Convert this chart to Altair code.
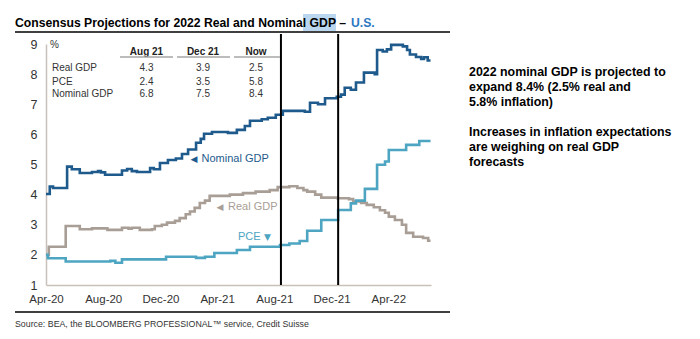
import altair as alt
import pandas as pd

FONT = "Liberation Sans"
C_NOM = "#1E5A8C"
C_REAL = "#A89E96"
C_PCE = "#4DA5C2"

nom_dates = ["2020-04-01","2020-04-09","2020-04-16","2020-05-16","2020-05-26","2020-06-12","2020-07-08","2020-07-21",
             "2020-07-27","2020-08-05","2020-09-10","2020-09-21","2020-10-01","2020-10-12","2020-11-09","2020-11-17",
             "2020-11-30","2020-12-17","2021-01-03","2021-01-16","2021-01-29","2021-02-15","2021-02-25","2021-03-04",
             "2021-03-21","2021-04-24","2021-05-13","2021-05-30","2021-06-10","2021-07-05","2021-07-18","2021-08-04",
             "2021-08-19","2021-10-05","2021-10-16","2021-11-02","2021-11-17","2021-12-12","2021-12-21","2021-12-29",
             "2022-01-11","2022-01-22","2022-02-08","2022-03-03","2022-03-08","2022-03-20","2022-03-29","2022-04-07",
             "2022-05-02","2022-05-11","2022-05-17","2022-05-30","2022-06-10","2022-06-16","2022-06-24","2022-06-30"]
nom_vals = [4.02,4.27,4.22,4.93,4.84,4.72,4.75,4.78,
            4.74,4.66,4.80,4.85,4.78,4.75,4.88,4.84,
            5.05,5.15,5.20,5.35,5.50,5.72,5.85,6.02,
            6.08,6.05,6.15,6.28,6.45,6.50,6.55,6.65,
            6.78,6.75,7.05,7.00,7.20,7.25,7.32,7.55,
            7.48,7.72,8.05,8.00,8.80,8.75,8.82,8.97,
            8.92,8.80,8.65,8.57,8.50,8.56,8.45,8.45]

real_dates = ["2020-04-01","2020-04-07","2020-05-13","2020-06-12","2020-07-08","2020-08-10","2020-09-10","2020-09-24",
              "2020-10-01","2020-10-18","2020-11-13","2020-11-19","2020-12-04","2020-12-15","2021-01-01","2021-01-11",
              "2021-01-24","2021-02-02","2021-02-12","2021-02-23","2021-03-06","2021-03-16","2021-04-28","2021-05-26",
              "2021-06-22","2021-07-22","2021-08-08","2021-09-02","2021-09-19","2021-10-02","2021-10-10","2021-10-27",
              "2021-11-09","2021-12-13","2022-01-07","2022-01-16","2022-02-02","2022-02-14","2022-03-01","2022-03-14",
              "2022-03-25","2022-04-02","2022-04-15","2022-04-30","2022-05-09","2022-05-24","2022-06-14","2022-06-25",
              "2022-06-30"]
real_vals = [2.00,2.27,2.96,2.85,2.88,2.83,2.90,2.87,
             2.90,2.83,2.85,2.96,3.00,3.07,3.13,3.22,
             3.35,3.44,3.56,3.72,3.80,3.96,4.00,4.05,
             4.10,4.15,4.25,4.28,4.22,4.15,4.10,4.00,
             3.90,3.88,3.85,3.77,3.72,3.66,3.58,3.48,
             3.40,3.27,3.16,3.00,2.73,2.60,2.56,2.47,
             2.47]

pce_dates = ["2020-04-01","2020-04-05","2020-05-13","2020-08-16","2020-08-27","2020-09-10","2020-12-13","2021-02-15",
             "2021-03-06","2021-03-26","2021-05-13","2021-06-10","2021-08-13","2021-09-02","2021-09-24","2021-10-10",
             "2021-11-09","2021-12-15","2022-01-11","2022-01-22","2022-02-10","2022-03-08","2022-03-25","2022-04-02",
             "2022-05-09","2022-06-06","2022-06-30"]
pce_vals = [2.00,1.89,1.78,1.80,1.74,1.85,1.94,1.90,
            1.94,2.06,2.16,2.27,2.33,2.38,2.46,2.80,
            3.16,3.49,3.71,3.80,4.19,4.99,5.10,5.48,
            5.65,5.78,5.78]

event_dates = ["2021-08-15", "2021-12-15"]
x_ticks = [(2020, 4), (2020, 8), (2020, 12), (2021, 4), (2021, 8), (2021, 12), (2022, 4)]
y_ticks = [1, 2, 3, 4, 5, 6, 7, 8, 9]

table_cols = ["Aug 21", "Dec 21", "Now"]
table_rows = ["Real GDP", "PCE", "Nominal GDP"]
table_vals = [["4.3", "3.9", "2.5"], ["2.4", "3.5", "5.8"], ["6.8", "7.5", "8.4"]]

right_text = ["2022 nominal GDP is projected to", "expand 8.4% (2.5% real and", "5.8% inflation)",
              "", "Increases in inflation expectations", "are weighing on real GDP", "forecasts"]

rows = []
for s, ds, vs in [("Nominal GDP", nom_dates, nom_vals), ("Real GDP", real_dates, real_vals), ("PCE", pce_dates, pce_vals)]:
    for d, v in zip(ds, vs):
        rows.append({"series": s, "date": d + "T00:00:00", "value": v})
df = pd.DataFrame(rows)

W, H = 385, 241
x_scale = alt.Scale(domain=[alt.DateTime(year=2020, month=4, date=1), alt.DateTime(year=2022, month=7, date=1)])
y_scale = alt.Scale(domain=[1, 9], nice=False, zero=False)

lines = alt.Chart(df).mark_line(interpolate="step-after", strokeWidth=2.6).encode(
    x=alt.X("date:T", scale=x_scale, title=None,
            axis=alt.Axis(values=[alt.DateTime(year=y, month=m, date=1) for y, m in x_ticks], format="%b-%y",
                          grid=False, ticks=False, labelFlush=False, labelOverlap=False, labelPadding=8,
                          labelFontSize=11.5, labelFont=FONT, labelColor="#333333",
                          domainColor="#C9C1B9", domainWidth=1.5)),
    y=alt.Y("value:Q", scale=y_scale, title=None,
            axis=alt.Axis(values=y_ticks, grid=False, ticks=False, labelPadding=9, labelFontSize=12.5,
                          labelFont=FONT, labelColor="#333333", domainColor="#C9C1B9", domainWidth=1.5)),
    color=alt.Color("series:N", legend=None,
                    scale=alt.Scale(domain=["Nominal GDP", "Real GDP", "PCE"], range=[C_NOM, C_REAL, C_PCE])),
)

ev = pd.DataFrame({"date": [d + "T00:00:00" for d in event_dates]})
events = alt.Chart(ev).mark_rule(color="black", strokeWidth=2).encode(
    x=alt.X("date:T", scale=x_scale), y=alt.value(-10), y2=alt.value(H))

one = pd.DataFrame({"a": [0]})

def txt(px, py, label, size, color="#222222", weight="normal", align="left", baseline="middle", font=FONT):
    return alt.Chart(one).mark_text(align=align, baseline=baseline, fontSize=size, font=font,
                                    fontWeight=weight, color=color).encode(
        x=alt.value(px), y=alt.value(py), text=alt.value(label))

def hrule(x1, x2, y, color="black", width=1.5):
    return alt.Chart(one).mark_rule(color=color, strokeWidth=width).encode(
        x=alt.value(x1), x2=alt.value(x2), y=alt.value(y))

layers = [lines, events]

# title
layers.append(alt.Chart(one).mark_rect(color="#BBD6EF").encode(
    x=alt.value(257), x2=alt.value(290), y=alt.value(-30), y2=alt.value(-13)))
layers.append(txt(-31, -17, "Consensus Projections for 2022 Real and Nominal GDP –", 12.2, "black", "bold", baseline="alphabetic"))
layers.append(txt(305, -17, "U.S.", 12.2, "#2B78C2", "bold", baseline="alphabetic"))
layers.append(hrule(-31, 404, -12))
# source
layers.append(hrule(-31, 404, 268))
layers.append(txt(-31, 283, "Source: BEA, the BLOOMBERG PROFESSIONAL™ service, Credit Suisse", 8.8, "#333333", baseline="alphabetic"))

# table
layers.append(txt(4, 1, "%", 10, "#333333"))
col_x = [100.5, 157, 210]
for cx, c in zip(col_x, table_cols):
    layers.append(txt(cx, 7.5, c, 10, "#222222", "bold", align="center"))
for (a, b) in [(74, 127), (131, 184), (188, 234)]:
    layers.append(hrule(a, b, 13, "#A6A6A6", 1.5))
row_y = [24.3, 37.7, 50]
for ry, r, vals in zip(row_y, table_rows, table_vals):
    layers.append(txt(6, ry, r, 10, "#333333"))
    for cx, v in zip(col_x, vals):
        layers.append(txt(cx, ry, v, 10, "#333333", align="center"))

# annotations
layers.append(txt(144.5, 115, "◀", 9, C_NOM, font="DejaVu Sans"))
layers.append(txt(155.5, 115, "Nominal GDP", 11, C_NOM))
layers.append(txt(170.5, 162.7, "◀", 9, C_REAL, font="DejaVu Sans"))
layers.append(txt(182, 162.7, "Real GDP", 11, C_REAL))
layers.append(txt(192, 192.7, "PCE", 11, C_PCE))
layers.append(txt(218, 192.7, "▼", 9, C_PCE, font="DejaVu Sans"))

# right text
for i, line in enumerate(right_text):
    if line:
        layers.append(txt(423, 27.7 + i * 15, line, 12.4, "black", "bold"))

chart = alt.layer(*layers).properties(
    width=W, height=H,
    autosize=alt.AutoSizeParams(type="none"),
    padding={"left": 46, "top": 44, "right": 269, "bottom": 54},
    background="white",
).configure_view(stroke=None)

chart.save("out.html", embed_options={"renderer": "svg", "actions": False})
